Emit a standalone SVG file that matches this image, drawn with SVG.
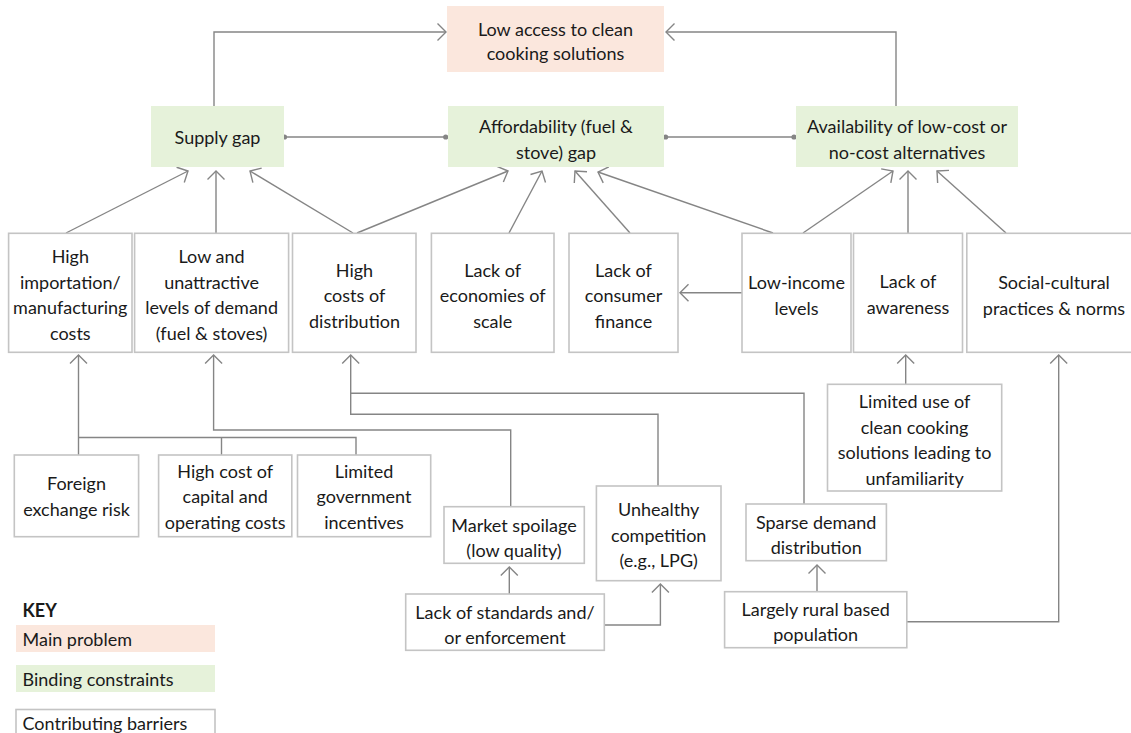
<svg xmlns="http://www.w3.org/2000/svg" width="1131" height="733" viewBox="0 0 1131 733">
<style>
.t{font-family:Lato,"Liberation Sans",Arial,sans-serif;font-size:18px;fill:#1a1a1a;text-anchor:middle}
.k{font-family:Lato,"Liberation Sans",Arial,sans-serif;font-size:18px;fill:#1a1a1a}
.box{fill:#ffffff;stroke:#c4c4c4;stroke-width:1.6}
.main{fill:#fbe7dd}
.bind{fill:#e6f2da}
.c{fill:none;stroke:#858585;stroke-width:1.4}
.d{fill:#858585}
</style>
<defs>
<marker id="ah" markerUnits="userSpaceOnUse" orient="auto" markerWidth="20" markerHeight="20" refX="0" refY="0" viewBox="-12 -10 14 20" overflow="visible">
<path d="M-8.5,-8.5 L0,0 L-8.5,8.5" fill="none" stroke="#858585" stroke-width="1.4"/>
</marker>
</defs>
<rect width="1131" height="733" fill="#ffffff"/>

<g id="connectors">
<path class="c" d="M214 106 V32 H446" marker-end="url(#ah)"/>
<path class="c" d="M896 106 V32 H666" marker-end="url(#ah)"/>
<path class="c" d="M284 137 H446"/>
<circle class="d" cx="284.5" cy="137" r="2.6"/>
<circle class="d" cx="445.7" cy="137" r="2.6"/>
<path class="c" d="M666 137 H794"/>
<circle class="d" cx="665.6" cy="137" r="2.6"/>
<circle class="d" cx="794" cy="137" r="2.6"/>

<path class="c" d="M66 233 L188 171" marker-end="url(#ah)"/>
<path class="c" d="M216 233 V171" marker-end="url(#ah)"/>
<path class="c" d="M353 233 L250 171" marker-end="url(#ah)"/>
<path class="c" d="M357 233 L508 171" marker-end="url(#ah)"/>
<path class="c" d="M509 233 L542 171" marker-end="url(#ah)"/>
<path class="c" d="M630 233 L575 171" marker-end="url(#ah)"/>
<path class="c" d="M773 233 L598 172" marker-end="url(#ah)"/>
<path class="c" d="M803 233 L893 171" marker-end="url(#ah)"/>
<path class="c" d="M908 233 V171" marker-end="url(#ah)"/>
<path class="c" d="M1006 233 L937 171" marker-end="url(#ah)"/>

<path class="c" d="M742 292.7 H680" marker-end="url(#ah)"/>

<path class="c" d="M78.5 455 V355" marker-end="url(#ah)"/>
<path class="c" d="M78.5 437.5 H356 V455"/>
<path class="c" d="M221.5 437.5 V455"/>
<path class="c" d="M510.7 506.7 V430 H213.6 V355" marker-end="url(#ah)"/>
<path class="c" d="M804 504 V393.3 H350.7 V355" marker-end="url(#ah)"/>
<path class="c" d="M658 486 V414.3 H350.7 V393.3"/>
<path class="c" d="M509.3 594 V567" marker-end="url(#ah)"/>
<path class="c" d="M604.3 625 H660.4 V584" marker-end="url(#ah)"/>
<path class="c" d="M817 591.7 V565" marker-end="url(#ah)"/>
<path class="c" d="M906.8 621.7 H1058.7 V355" marker-end="url(#ah)"/>
<path class="c" d="M905.7 384.3 V355" marker-end="url(#ah)"/>
</g>

<g id="main-problem">
<rect class="main" x="447" y="6" width="217" height="66"/>
<text class="t" x="555.5" y="35.5">Low access to clean</text>
<text class="t" x="555.5" y="60">cooking solutions</text>
</g>

<g id="supply-gap">
<rect class="bind" x="151" y="106" width="133" height="61"/>
<text class="t" x="217.5" y="143.5">Supply gap</text>
</g>
<g id="affordability-gap">
<rect class="bind" x="448" y="106" width="216" height="61"/>
<text class="t" x="556" y="132.5">Affordability (fuel &amp;</text>
<text class="t" x="556" y="158.5">stove) gap</text>
</g>
<g id="availability-alternatives">
<rect class="bind" x="796" y="106" width="222" height="61"/>
<text class="t" x="907" y="132.5">Availability of low-cost or</text>
<text class="t" x="907" y="158.5">no-cost alternatives</text>
</g>

<g id="high-importation">
<rect class="box" x="8.6" y="233.3" width="123.4" height="119"/>
<text class="t" x="70.3" y="263">High</text>
<text class="t" x="70.3" y="288.5">importation/</text>
<text class="t" x="70.3" y="314">manufacturing</text>
<text class="t" x="70.3" y="339.5">costs</text>
</g>
<g id="low-demand">
<rect class="box" x="134.6" y="233.3" width="154" height="119"/>
<text class="t" x="211.6" y="263">Low and</text>
<text class="t" x="211.6" y="288.5">unattractive</text>
<text class="t" x="211.6" y="314">levels of demand</text>
<text class="t" x="211.6" y="339.5">(fuel &amp; stoves)</text>
</g>
<g id="high-distribution">
<rect class="box" x="292.5" y="233.3" width="123.5" height="119"/>
<text class="t" x="354.5" y="276.5">High</text>
<text class="t" x="354.5" y="302">costs of</text>
<text class="t" x="354.5" y="327.5">distribution</text>
</g>
<g id="economies-of-scale">
<rect class="box" x="431.4" y="233.3" width="122.6" height="119"/>
<text class="t" x="492.7" y="276.5">Lack of</text>
<text class="t" x="492.7" y="302">economies of</text>
<text class="t" x="492.7" y="327.5">scale</text>
</g>
<g id="consumer-finance">
<rect class="box" x="569" y="233.3" width="109" height="119"/>
<text class="t" x="623.5" y="276.5">Lack of</text>
<text class="t" x="623.5" y="302">consumer</text>
<text class="t" x="623.5" y="327.5">finance</text>
</g>
<g id="low-income">
<rect class="box" x="742" y="233.3" width="109" height="119"/>
<text class="t" x="796.5" y="289">Low-income</text>
<text class="t" x="796.5" y="314.5">levels</text>
</g>
<g id="lack-awareness">
<rect class="box" x="853.5" y="233.3" width="109" height="119"/>
<text class="t" x="908" y="288">Lack of</text>
<text class="t" x="908" y="313.5">awareness</text>
</g>
<g id="social-cultural">
<rect class="box" x="966.8" y="233.3" width="174" height="119"/>
<text class="t" x="1054" y="289">Social-cultural</text>
<text class="t" x="1054" y="314.5">practices &amp; norms</text>
</g>

<g id="limited-use">
<rect class="box" x="827.5" y="384.3" width="174.2" height="106.7"/>
<text class="t" x="914.6" y="408">Limited use of</text>
<text class="t" x="914.6" y="433.5">clean cooking</text>
<text class="t" x="914.6" y="459">solutions leading to</text>
<text class="t" x="914.6" y="484.5">unfamiliarity</text>
</g>

<g id="foreign-exchange">
<rect class="box" x="14.3" y="455" width="124.3" height="81.7"/>
<text class="t" x="76.5" y="490">Foreign</text>
<text class="t" x="76.5" y="515.5">exchange risk</text>
</g>
<g id="capital-costs">
<rect class="box" x="158.6" y="455" width="133.2" height="81.7"/>
<text class="t" x="225.2" y="477.5">High cost of</text>
<text class="t" x="225.2" y="503">capital and</text>
<text class="t" x="225.2" y="528.5">operating costs</text>
</g>
<g id="government-incentives">
<rect class="box" x="297.5" y="455" width="133.2" height="81.7"/>
<text class="t" x="364" y="477.5">Limited</text>
<text class="t" x="364" y="503">government</text>
<text class="t" x="364" y="528.5">incentives</text>
</g>
<g id="market-spoilage">
<rect class="box" x="444" y="506.7" width="140.3" height="56.6"/>
<text class="t" x="514" y="531.5">Market spoilage</text>
<text class="t" x="514" y="557">(low quality)</text>
</g>
<g id="unhealthy-competition">
<rect class="box" x="596.4" y="486" width="124.6" height="94.7"/>
<text class="t" x="658.7" y="515.5">Unhealthy</text>
<text class="t" x="658.7" y="541.5">competition</text>
<text class="t" x="658.7" y="567">(e.g., LPG)</text>
</g>
<g id="sparse-demand">
<rect class="box" x="746" y="504" width="140.4" height="56.7"/>
<text class="t" x="816.2" y="528.5">Sparse demand</text>
<text class="t" x="816.2" y="554">distribution</text>
</g>
<g id="standards-enforcement">
<rect class="box" x="405.7" y="594" width="198.6" height="56.3"/>
<text class="t" x="505" y="618.5">Lack of standards and/</text>
<text class="t" x="505" y="644">or enforcement</text>
</g>
<g id="rural-population">
<rect class="box" x="724.6" y="591.7" width="182.2" height="56"/>
<text class="t" x="815.7" y="615.5">Largely rural based</text>
<text class="t" x="815.7" y="641">population</text>
</g>

<g id="key">
<text class="k" x="22.5" y="616.5" font-weight="bold">KEY</text>
<rect class="main" x="16" y="625" width="199" height="27"/>
<text class="k" x="22.5" y="645.5">Main problem</text>
<rect class="bind" x="16" y="665" width="199" height="27"/>
<text class="k" x="22.5" y="686">Binding constraints</text>
<rect class="box" x="16" y="709.5" width="199" height="30"/>
<text class="k" x="22.5" y="729.5">Contributing barriers</text>
</g>
</svg>
